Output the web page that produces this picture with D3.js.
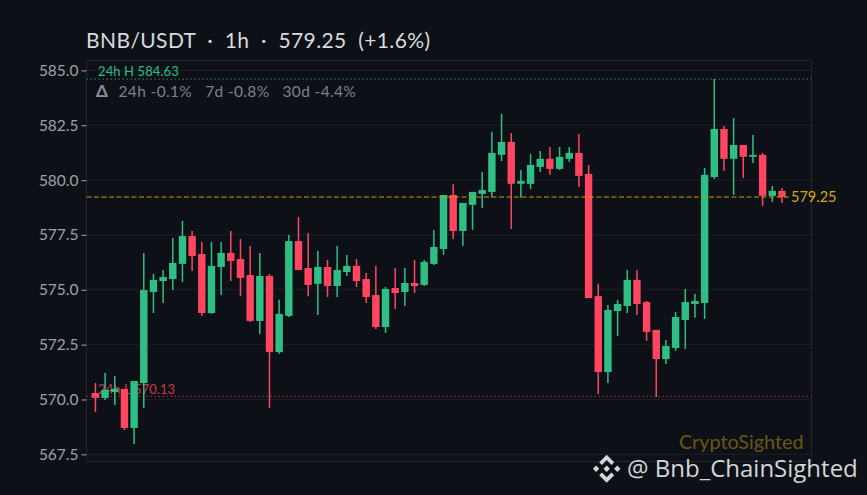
<!DOCTYPE html>
<html>
<head>
<meta charset="utf-8">
<script src="https://cdn.jsdelivr.net/npm/d3@7"></script>
<style>
  html, body { margin: 0; padding: 0; background: #0d1117; overflow: hidden; }
  text { font-family: Lato, "Open Sans", sans-serif; }
</style>
</head>
<body>
<div id="chart"></div>
<script>
// candle values, one entry per hour
const opens = [570.29,570.07,570.34,570.48,568.70,570.75,574.90,575.40,575.49,576.18,577.45,576.63,573.94,576.04,576.68,576.40,575.67,573.58,575.63,572.16,573.81,577.22,575.99,575.27,576.04,575.17,575.81,576.09,575.49,574.76,573.30,575.08,574.90,575.31,575.22,576.18,576.86,579.32,577.68,578.87,579.37,579.46,581.15,581.74,579.83,579.83,580.60,580.97,580.51,580.97,581.24,580.28,574.71,571.25,574.03,574.26,575.45,574.44,573.17,571.84,572.35,573.62,574.35,574.40,580.14,582.33,580.97,581.60,581.06,581.15,579.28,579.51];
const closes = [570.07,570.43,570.49,568.70,570.84,574.99,575.45,575.58,576.22,577.45,576.54,573.94,576.09,576.68,576.31,575.54,573.58,575.63,572.16,573.90,577.22,575.90,575.22,576.04,575.17,575.90,576.09,575.40,574.67,573.30,575.04,574.85,575.31,575.17,576.27,576.95,579.32,577.68,578.96,579.46,579.55,581.24,581.74,579.83,579.96,580.69,580.97,580.51,581.06,581.24,580.19,574.62,571.25,574.08,574.35,575.45,574.35,573.08,571.84,572.44,573.76,574.44,574.49,580.24,582.33,580.97,581.60,581.06,581.15,579.28,579.51,579.23];
const highs = [570.75,571.21,571.07,570.48,570.84,576.68,575.72,575.90,577.36,578.14,577.68,577.18,577.18,577.18,577.68,577.32,577.00,576.68,575.72,574.54,577.50,578.32,577.59,576.77,576.36,577.00,576.59,576.40,575.76,576.09,575.13,575.99,575.99,576.36,576.36,577.73,579.32,579.81,578.96,579.46,580.37,582.20,583.02,582.15,580.46,581.19,581.33,581.51,581.51,581.51,582.10,580.69,575.27,574.31,574.54,575.90,575.90,574.49,573.17,572.71,573.99,575.04,574.81,580.55,584.61,582.47,582.83,581.60,582.06,581.24,579.73,579.64];
const lows = [569.43,569.98,569.75,568.61,567.97,569.61,573.94,574.40,574.99,575.36,575.86,573.81,573.90,574.76,575.40,574.71,573.53,572.98,569.61,572.07,573.76,575.90,574.71,573.85,574.67,574.67,575.63,575.13,574.40,573.21,573.03,574.12,574.26,574.85,575.17,576.13,576.59,577.32,577.00,577.73,578.73,579.23,580.87,577.77,579.19,579.60,580.37,580.24,580.46,580.83,579.69,574.62,570.25,570.75,572.89,573.94,573.85,572.67,570.11,571.62,572.22,572.30,573.72,573.67,580.05,580.42,579.32,580.10,580.78,578.82,579.00,578.96];

const yTicks = [567.5, 570, 572.5, 575, 577.5, 580, 582.5, 585];
const high24h = 584.63;
const low24h = 570.13;
const lastPrice = 579.25;
const titleText = "BNB/USDT\u00a0\u00a0·\u00a0\u00a01h\u00a0\u00a0·\u00a0\u00a0579.25\u00a0\u00a0(+1.6%)";
const changeText = "24h -0.1%\u00a0\u00a0\u00a07d -0.8%\u00a0\u00a0\u00a030d -4.4%";

const width = 867;
const height = 495;
const frame = { left: 86.5, right: 811.5, top: 60.5, bottom: 461.5 };

const green = "#2fbf85";
const red = "#ff4560";

const svg = d3.select("#chart")
    .append("svg")
    .attr("width", width)
    .attr("height", height)
    .style("display", "block");

svg.append("rect").attr("width", width).attr("height", height).attr("fill", "#0d1117");

const y = d3.scaleLinear().domain([567.5, 585]).range([454.3, 70.4]);
const x = d3.scaleBand()
    .domain(d3.range(opens.length))
    .range([90.6, 786.8]);
const cx = i => x(i) + x.bandwidth() / 2;

// gridlines
svg.append("g")
    .selectAll("line")
    .data(yTicks)
    .enter()
    .append("line")
    .attr("x1", frame.left)
    .attr("x2", frame.right)
    .attr("y1", d => y(d))
    .attr("y2", d => y(d))
    .attr("stroke", "#1c2128")
    .attr("stroke-width", 1);

// frame
svg.append("path")
    .attr("d", `M${frame.left},${frame.bottom}H${frame.right}V${frame.top}H${frame.left}Z`)
    .attr("fill", "none")
    .attr("stroke", "#22272e")
    .attr("stroke-width", 1);

// y axis
const axis = svg.append("g")
    .attr("transform", `translate(${frame.left},0)`)
    .call(d3.axisLeft(y).tickValues(yTicks).tickFormat(d3.format(".1f")).tickSize(5).tickPadding(3));
axis.select(".domain").remove();
axis.selectAll(".tick line").attr("stroke", "#8b8f96").attr("stroke-width", 1.2);
axis.selectAll(".tick text")
    .attr("fill", "#9da3ab")
    .style("font-size", "15.5px");

// 24h high / low labels sit under the candles
svg.append("text").attr("x", 98).attr("y", 76).attr("fill", "#2ebd85")
    .style("font-size", "13px").style("letter-spacing", "0.1px").text(`24h H ${high24h.toFixed(2)}`);
svg.append("text").attr("x", 98).attr("y", 394).attr("fill", "#c9394b")
    .style("font-size", "13px").style("letter-spacing", "0.1px").text(`24h L ${low24h.toFixed(2)}`);

const refLines = [
    { v: high24h, c: "#2a8a68", off: 0.6 },
    { v: low24h, c: "#b23445", off: -0.3 }
];
svg.append("g")
    .selectAll("line")
    .data(refLines)
    .enter()
    .append("line")
    .attr("x1", frame.left)
    .attr("x2", frame.right)
    .attr("y1", d => y(d.v) + d.off)
    .attr("y2", d => y(d.v) + d.off)
    .attr("stroke", d => d.c)
    .attr("stroke-width", 1)
    .attr("stroke-dasharray", "1.5,2.5");

// candles
const candles = svg.append("g")
    .selectAll("g")
    .data(opens.map((o, i) => i))
    .enter()
    .append("g");

candles.append("line")
    .attr("x1", i => cx(i))
    .attr("x2", i => cx(i))
    .attr("y1", i => y(highs[i]))
    .attr("y2", i => y(lows[i]))
    .attr("stroke", i => closes[i] >= opens[i] ? green : red)
    .attr("stroke-width", 1.5);

candles.append("rect")
    .attr("x", i => cx(i) - 3.7)
    .attr("width", 7.4)
    .attr("y", i => y(Math.max(opens[i], closes[i])))
    .attr("height", i => Math.max(1.5, Math.abs(y(opens[i]) - y(closes[i]))))
    .attr("fill", i => closes[i] >= opens[i] ? green : red);

// last price
svg.append("line")
    .attr("x1", frame.left)
    .attr("x2", 791)
    .attr("y1", y(lastPrice) + 0.5)
    .attr("y2", y(lastPrice) + 0.5)
    .attr("stroke", "#c9980f")
    .attr("stroke-width", 1)
    .attr("stroke-dasharray", "5,2.5");

svg.append("text").attr("x", 791).attr("y", 202).attr("fill", "#d9a514")
    .style("font-size", "14.5px").text(lastPrice.toFixed(2));

// header
svg.append("text").attr("x", 86).attr("y", 48).attr("fill", "#d8dade")
    .style("font-size", "21px").style("letter-spacing", "0.4px").text(titleText);
svg.append("text").attr("x", 96).attr("y", 97).attr("fill", "#8b8f96")
    .style("font-size", "17px").style("font-weight", "bold").text("\u0394");
svg.append("text").attr("x", 118.5).attr("y", 97).attr("fill", "#7d828a")
    .style("font-size", "15.5px").style("letter-spacing", "0.36px").text(changeText);

// watermarks
svg.append("text").attr("x", 803.5).attr("y", 449).attr("text-anchor", "end").attr("fill", "#6b5616")
    .style("font-size", "19.8px").text("CryptoSighted");
svg.append("text").attr("x", 627).attr("y", 477).attr("fill", "#d4d6d9")
    .style("font-family", "'Open Sans', sans-serif")
    .style("font-size", "24px").text("@ Bnb_ChainSighted");

const logo = svg.append("g").attr("transform", "translate(606.7,468.7)").attr("fill", "#d4d6d9");
logo.append("path").attr("d",
    "M0,-14L7.5,-6.5L4.8,-3.8L0,-8.6L-4.8,-3.8L-7.5,-6.5Z" +
    "M0,14L7.5,6.5L4.8,3.8L0,8.6L-4.8,3.8L-7.5,6.5Z" +
    "M0,-3.2L3.2,0L0,3.2L-3.2,0Z" +
    "M-10.6,-3.2L-7.4,0L-10.6,3.2L-13.8,0Z" +
    "M10.6,-3.2L13.8,0L10.6,3.2L7.4,0Z");
</script>
</body>
</html>
